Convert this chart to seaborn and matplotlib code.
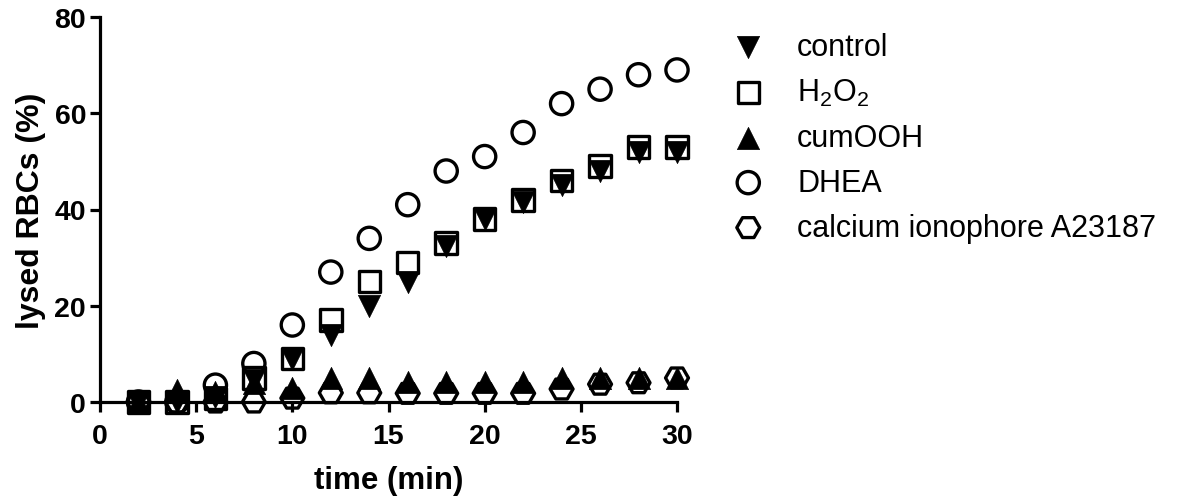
import numpy as np
import pandas as pd
import matplotlib
matplotlib.use("Agg")
import matplotlib.pyplot as plt
import seaborn as sns

# ---- data ----
time_min = [2, 4, 6, 8, 10, 12, 14, 16, 18, 20, 22, 24, 26, 28, 30]
control = [0, 0, 1, 4.5, 9, 14, 20, 25, 32.5, 38, 41.5, 45, 48, 52, 52]
h2o2 = [0, 0, 0.7, 5, 9, 17, 25, 29, 33, 38, 42, 46, 49, 53, 53]
cumooh = [0, 2.5, 2, 4, 3, 5, 5, 4.2, 4.2, 4.2, 4.2, 5, 5, 5, 5]
dhea = [0, 0, 3.5, 8, 16, 27, 34, 41, 48, 51, 56, 62, 65, 68, 69]
calcium = [0, 0, 0, 0, 0.8, 1.9, 1.9, 1.8, 1.8, 1.8, 1.8, 2.7, 3.7, 4, 5]
series_labels = ["control", r"H$_2$O$_2$", "cumOOH", "DHEA", "calcium ionophore A23187"]
x_ticks = [0, 5, 10, 15, 20, 25, 30]
y_ticks = [0, 20, 40, 60, 80]

series_values = [control, h2o2, cumooh, dhea, calcium]

# ---- styles ----
marker_styles = [
    dict(marker="v", filled=True, size=16),
    dict(marker="s", filled=False, size=15.5),
    dict(marker="^", filled=True, size=16),
    dict(marker="o", filled=False, size=16),
    dict(marker="H", filled=False, size=16.5),
]

sns.set_style("ticks")
plt.rcParams["font.family"] = ["Liberation Sans", "DejaVu Sans"]
plt.rcParams["mathtext.default"] = "regular"

W, H = 1177, 502
fig = plt.figure(figsize=(W / 100, H / 100), dpi=100)
ax = fig.add_axes([100 / W, 99 / H, 577 / W, 385 / H])

for label, vals, st in zip(series_labels, series_values, marker_styles):
    df = pd.DataFrame({"time": time_min, "value": vals})
    lw = 0.5 if st["filled"] else 2.4
    sns.scatterplot(data=df, x="time", y="value", ax=ax, marker=st["marker"],
                    s=st["size"] ** 2, color="black", edgecolor="black",
                    linewidth=lw, label=label, zorder=5, clip_on=False)
    coll = ax.collections[-1]
    if not st["filled"]:
        coll.set_facecolor("none")
    coll.set_edgecolor("black")

ax.set_xlim(0, 30)
ax.set_ylim(0, 80)
ax.set_xticks(x_ticks)
ax.set_yticks(y_ticks)
sns.despine(ax=ax)
for sp in ["left", "bottom"]:
    ax.spines[sp].set_linewidth(2.3)
    ax.spines[sp].set_color("black")
ax.tick_params(axis="both", direction="out", length=7, width=2.3, labelsize=20.5,
               color="black", labelcolor="black")
ax.tick_params(axis="x", pad=8)
ax.tick_params(axis="y", pad=3)
for lbl in ax.get_xticklabels() + ax.get_yticklabels():
    lbl.set_fontweight("bold")

ax.set_xlabel("time (min)", fontsize=22.5, fontweight="bold", labelpad=12, color="black")
ax.set_ylabel("lysed RBCs (%)", fontsize=23, fontweight="bold", labelpad=6, color="black")

handles, labels = ax.get_legend_handles_labels()
ax.legend(handles, labels, loc="upper left", bbox_to_anchor=(733 / W, 0.935),
          bbox_transform=fig.transFigure, frameon=False, fontsize=22,
          handlelength=1.0, handletextpad=1.1, borderpad=0, borderaxespad=0,
          labelspacing=0.49, scatterpoints=1, labelcolor="black")

fig.savefig("out.png", dpi=100)
